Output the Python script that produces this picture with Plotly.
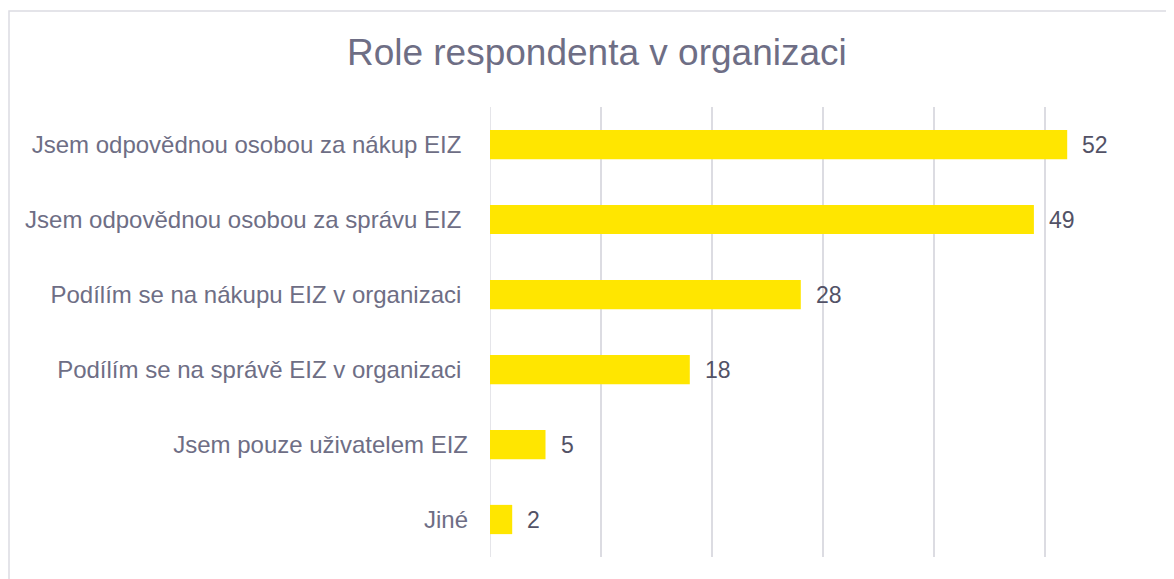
import plotly.graph_objects as go

categories = [
    "Jsem odpovědnou osobou za nákup EIZ ",
    "Jsem odpovědnou osobou za správu EIZ ",
    "Podílím se na nákupu EIZ v organizaci ",
    "Podílím se na správě EIZ v organizaci ",
    "Jsem pouze uživatelem EIZ",
    "Jiné",
]
values = [52, 49, 28, 18, 5, 2]
title_text = "Role respondenta v organizaci"

labels = [c.rstrip() + ("\u00a0" if c.endswith(" ") else "") for c in categories]

W, H = 1166, 571
L, R, T, B = 482, 18, 99, 22
PW, PH = W - L - R, H - T - B

fig = go.Figure()
fig.add_trace(go.Bar(
    x=values, y=labels, orientation="h",
    marker=dict(color="#FFE600", line=dict(width=0)),
    width=0.39,
    hoverinfo="x+y",
))

for v, lab in zip(values, labels):
    fig.add_annotation(x=v, y=lab, text=str(v), showarrow=False,
                       xanchor="left", xshift=13,
                       font=dict(family="Liberation Sans, Arial", size=23, color="#525266"))

fig.update_layout(
    width=W, height=H,
    margin=dict(l=L, r=R, t=T, b=B),
    paper_bgcolor="white", plot_bgcolor="white",
    showlegend=False,
    title=dict(text=title_text, x=0.505, xanchor="center", y=0.923, yanchor="middle",
               font=dict(family="Liberation Sans, Arial", size=37, color="#6E6E85")),
    xaxis=dict(range=[0, 60], dtick=10, showgrid=True, gridcolor="#DCDCE2", gridwidth=1.5,
               showticklabels=False, zeroline=False, showline=False, ticks=""),
    yaxis=dict(autorange="reversed", showgrid=False, ticks="", ticklabelstandoff=21,
               tickfont=dict(family="Liberation Sans, Arial", size=24, color="#6E6E85")),
    shapes=[dict(type="rect", xref="paper", yref="paper",
                 x0=(1 - L) / PW, x1=(1190 - L) / PW,
                 y0=(T + PH - 650) / PH, y1=(T + PH - 3) / PH,
                 line=dict(color="#DCDCE2", width=1.5), fillcolor="rgba(0,0,0,0)", layer="below")],
)
fig.add_shape(type="line", xref="x", yref="paper", x0=0, x1=0, y0=0, y1=1,
              line=dict(color="#DCDCE2", width=1.5), layer="below")

fig.write_html("out.html")
